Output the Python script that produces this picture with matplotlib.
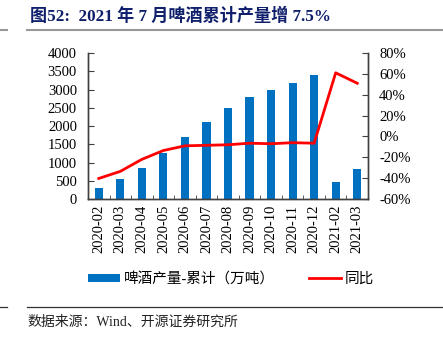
import matplotlib.pyplot as plt
import numpy as np
from matplotlib.lines import Line2D
from matplotlib.patches import Patch

plt.rcParams['font.family'] = ['Liberation Serif', 'Noto Sans CJK SC']

months = ['2020-02', '2020-03', '2020-04', '2020-05', '2020-06', '2020-07',
          '2020-08', '2020-09', '2020-10', '2020-11', '2020-12', '2021-02', '2021-03']
output_cum = [300, 550, 855, 1250, 1700, 2110, 2480, 2800, 2980, 3190, 3400, 470, 820]
yoy = [-40.3, -33.5, -22.0, -13.5, -9.0, -8.5, -8.0, -6.5, -7.0, -6.0, -6.5, 61.0, 51.0]

bar_color = '#0070C0'
line_color = '#FF0000'
spine_color = '#404040'

fig = plt.figure(figsize=(4.43, 3.4), dpi=100)
ax = fig.add_axes([88 / 443, 1 - 199 / 340, 280 / 443, 146 / 340])
ax2 = ax.twinx()

x = np.arange(len(months))
ax.bar(x, output_cum, width=0.38, color=bar_color, zorder=2)
ax2.plot(x, yoy, color=line_color, lw=2.0, zorder=3)

ax.set_xlim(-0.5, len(months) - 0.5)
ax.set_ylim(0, 4000)
ax.set_yticks(range(0, 4001, 500))
ax2.set_ylim(-60, 80)
ax2.set_yticks(range(-60, 81, 20))
ax2.set_yticklabels([f'{v}%' for v in range(-60, 81, 20)])

ax.set_xticks(x)
ax.set_xticklabels(months, rotation=90)
ax.set_xticks(x[:-1] + 0.5, minor=True)
ax.tick_params(axis='x', which='major', length=0, labelsize=10.5, pad=4)
ax.tick_params(axis='x', which='minor', direction='in', length=3, color=spine_color)
ax.tick_params(axis='y', direction='in', length=4, labelsize=10.5, color=spine_color, pad=8)
ax2.tick_params(axis='y', direction='in', length=4, labelsize=10.5, color=spine_color, pad=8)

for a in (ax, ax2):
    a.spines['top'].set_visible(False)
    for s in ('left', 'right', 'bottom'):
        a.spines[s].set_color(spine_color)
        a.spines[s].set_linewidth(1.0)

handles = [Patch(facecolor=bar_color), Line2D([0], [0], color=line_color, lw=2)]
fig.legend(handles, ['啤酒产量-累计（万吨）', '同比'], loc='center',
           bbox_to_anchor=(231 / 443, 1 - 279 / 340), ncol=2, frameon=False,
           fontsize=10.5, handlelength=2.2, handleheight=0.5, columnspacing=2.4,
           handletextpad=0.2)

# title and decorative rules
fig.text(30 / 443, 1 - 16 / 340, '图52:  2021 年 7 月啤酒累计产量增 7.5%',
         fontsize=12.3, fontweight='bold', color='#0F1F6B', va='center', ha='left')
fig.add_artist(Line2D([0, 7 / 443], [1 - 29.5 / 340] * 2, color='#999999', lw=1.5))
fig.add_artist(Line2D([27 / 443, 1], [1 - 29.5 / 340] * 2, color='#999999', lw=1.5))
fig.add_artist(Line2D([0, 7 / 443], [1 - 306.5 / 340] * 2, color='#333333', lw=0.9))
fig.add_artist(Line2D([27 / 443, 1], [1 - 306.5 / 340] * 2, color='#333333', lw=0.9))
fig.text(27 / 443, 1 - 322 / 340, '数据来源：Wind、开源证券研究所', fontsize=10,
         color='#222222', va='center', ha='left')

fig.savefig('out.png', dpi=100)
